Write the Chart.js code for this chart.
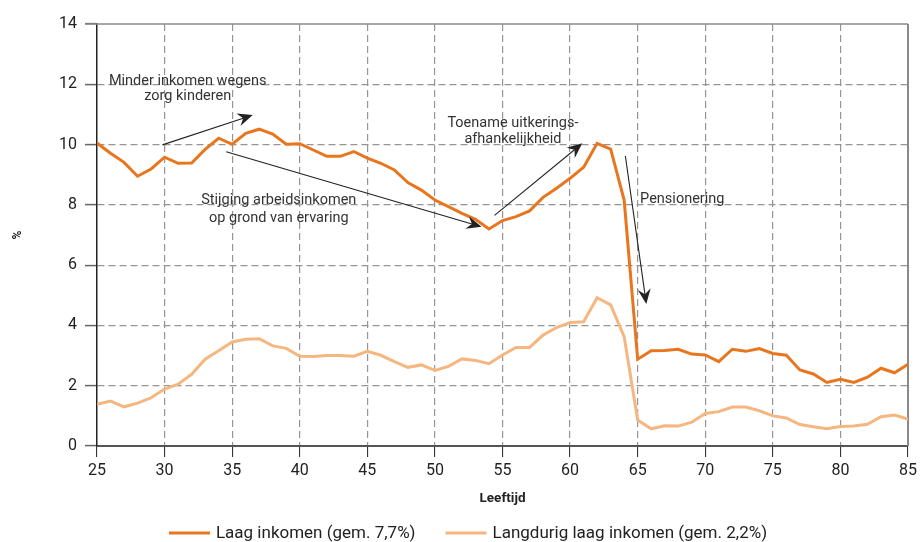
<!DOCTYPE html>
<html><head><meta charset="utf-8">
<script src="https://cdn.jsdelivr.net/npm/chart.js@4/dist/chart.umd.min.js"></script>
<style>html,body{margin:0;padding:0;background:#fff}#wrap{width:921px;height:542px}</style>
</head><body><div id="wrap"><canvas id="c" width="921" height="542"></canvas></div>
<script>
const ages = [25,26,27,28,29,30,31,32,33,34,35,36,37,38,39,40,41,42,43,44,45,46,47,48,49,50,51,52,53,54,55,56,57,58,59,60,61,62,63,64,65,66,67,68,69,70,71,72,73,74,75,76,77,78,79,80,81,82,83,84,85];
const laagInkomen = [10.05,9.71,9.41,8.95,9.19,9.58,9.38,9.39,9.84,10.21,10.01,10.37,10.51,10.35,10.01,10.03,9.82,9.61,9.61,9.77,9.55,9.38,9.16,8.74,8.49,8.16,7.94,7.72,7.52,7.20,7.48,7.61,7.80,8.25,8.55,8.88,9.25,10.04,9.85,8.16,2.88,3.16,3.17,3.21,3.05,3.02,2.80,3.21,3.14,3.23,3.07,3.01,2.52,2.39,2.11,2.21,2.11,2.28,2.58,2.43,2.71];
const langdurigLaagInkomen = [1.38,1.49,1.30,1.42,1.60,1.89,2.05,2.38,2.88,3.16,3.45,3.54,3.56,3.32,3.24,2.98,2.97,3.00,3.00,2.98,3.14,3.01,2.80,2.61,2.69,2.51,2.64,2.89,2.84,2.73,3.02,3.27,3.27,3.68,3.93,4.10,4.12,4.92,4.68,3.63,0.86,0.57,0.67,0.66,0.79,1.08,1.14,1.29,1.29,1.17,1.00,0.93,0.71,0.64,0.57,0.65,0.66,0.72,0.97,1.03,0.89];
const seriesLabels = ['Laag inkomen (gem. 7,7%)', 'Langdurig laag inkomen (gem. 2,2%)'];
const xTickValues = [25,30,35,40,45,50,55,60,65,70,75,80,85];
const yTickValues = [0,2,4,6,8,10,12,14];
const xTitle = 'Leeftijd';
const yTitle = '%';
const noteTexts = [
  ['Minder inkomen wegens','zorg kinderen'],
  ['Stijging arbeidsinkomen','op grond van ervaring'],
  ['Toename uitkerings-','afhankelijkheid'],
  ['Pensionering']
];

// placement of annotations (data coordinates)
const notePlacement = [
  {x:31.71, y:[12.09, 11.61]},
  {x:38.45, y:[8.16, 7.56]},
  {x:55.77, y:[10.71, 10.18]},
  {x:68.30, y:[8.19]}
];
const arrowPlacement = [
  {from:[29.84,9.99], to:[36.52,10.98]},
  {from:[34.56,9.76], to:[53.45,7.27]},
  {from:[54.41,7.65], to:[60.90,10.04]},
  {from:[64.09,9.62], to:[65.64,4.71]}
];

const FONT = 'Roboto, "Liberation Sans", sans-serif';
const colors = ['#E8761E', '#F5B680'];

const points = vals => ages.map((a,i)=>({x:a, y:vals[i]}));

const framePlugin = {
  id:'frame',
  beforeDatasetsDraw(chart){
    const {ctx, chartArea:ca} = chart;
    ctx.save();
    ctx.strokeStyle = '#8a8a8a';
    ctx.lineWidth = 1.5;
    ctx.beginPath(); ctx.moveTo(ca.left-12, ca.top); ctx.lineTo(ca.right, ca.top); ctx.stroke();
    ctx.lineWidth = 2;
    ctx.beginPath(); ctx.moveTo(ca.right, ca.top); ctx.lineTo(ca.right, ca.bottom); ctx.stroke();
    ctx.restore();
  }
};

function arrow(ctx, x1, y1, x2, y2){
  const ang = Math.atan2(y2-y1, x2-x1);
  const L = 15, W = 6.5, N = 10;
  ctx.beginPath(); ctx.moveTo(x1,y1);
  ctx.lineTo(x2 - Math.cos(ang)*N, y2 - Math.sin(ang)*N); ctx.stroke();
  const bx = x2 - Math.cos(ang)*L, by = y2 - Math.sin(ang)*L;
  const px = -Math.sin(ang), py = Math.cos(ang);
  ctx.beginPath();
  ctx.moveTo(x2,y2);
  ctx.lineTo(bx + px*W, by + py*W);
  ctx.lineTo(x2 - Math.cos(ang)*N, y2 - Math.sin(ang)*N);
  ctx.lineTo(bx - px*W, by - py*W);
  ctx.closePath(); ctx.fill();
}

const notesPlugin = {
  id:'notes',
  afterDatasetsDraw(chart){
    const {ctx, scales:{x, y}} = chart;
    ctx.save();
    ctx.fillStyle = '#333';
    ctx.font = '14.5px ' + FONT;
    ctx.textAlign = 'center';
    ctx.textBaseline = 'middle';
    noteTexts.forEach((lines, i) => {
      const p = notePlacement[i];
      lines.forEach((t, j) => ctx.fillText(t, x.getPixelForValue(p.x), y.getPixelForValue(p.y[j])));
    });
    ctx.strokeStyle = '#222'; ctx.fillStyle = '#222'; ctx.lineWidth = 1.1;
    arrowPlacement.forEach(a => arrow(ctx,
      x.getPixelForValue(a.from[0]), y.getPixelForValue(a.from[1]),
      x.getPixelForValue(a.to[0]), y.getPixelForValue(a.to[1])));
    ctx.restore();
  }
};

const legendPlugin = {
  id:'customLegend',
  afterDraw(chart){
    const ctx = chart.ctx;
    ctx.save();
    ctx.font = '17px ' + FONT;
    const ds = chart.data.datasets;
    const sample = 41, gap = 6, between = 30;
    const widths = ds.map(d => ctx.measureText(d.label).width);
    const total = widths.reduce((s,w)=>s+sample+gap+w,0) + between*(ds.length-1);
    let cx = 468 - total/2;
    const cy = 533;
    ds.forEach((d,i) => {
      ctx.strokeStyle = d.borderColor; ctx.lineWidth = 3;
      ctx.beginPath(); ctx.moveTo(cx, cy); ctx.lineTo(cx+sample, cy); ctx.stroke();
      ctx.fillStyle = '#222'; ctx.textAlign = 'left'; ctx.textBaseline = 'middle';
      ctx.fillText(d.label, cx+sample+gap, cy+1);
      cx += sample + gap + widths[i] + between;
    });
    ctx.restore();
  }
};

new Chart(document.getElementById('c'), {
  type:'line',
  data:{
    datasets:[
      {label:seriesLabels[0], data:points(laagInkomen), borderColor:colors[0], borderWidth:3, pointRadius:0, tension:0, fill:false},
      {label:seriesLabels[1], data:points(langdurigLaagInkomen), borderColor:colors[1], borderWidth:3, pointRadius:0, tension:0, fill:false}
    ]
  },
  options:{
    responsive:false,
    animation:false,
    events:[],
    layout:{padding:{left:0, right:10, top:24, bottom:0}},
    plugins:{legend:{display:false}, tooltip:{enabled:false}},
    scales:{
      x:{
        type:'linear', min:25, max:85,
        afterBuildTicks: s => { s.ticks = xTickValues.map(v=>({value:v})); },
        afterFit: s => { s.height = 96; },
        ticks:{font:{family:FONT, size:16}, color:'#222', padding:4, maxRotation:0},
        grid:{
          color: c => (c.tick && (c.tick.value===25 || c.tick.value===85)) ? 'rgba(0,0,0,0)' : '#959595',
          lineWidth:1.2, tickLength:11, tickColor:'#222', tickWidth:1
        },
        border:{color:'#555', width:2, dash:[7,4]},
        title:{display:true, text:xTitle, font:{family:FONT, size:13.5, weight:'bold'}, color:'#222', padding:{top:0, bottom:35}}
      },
      y:{
        min:0, max:14,
        afterBuildTicks: s => { s.ticks = yTickValues.map(v=>({value:v})); },
        afterFit: s => { s.width = 97; },
        ticks:{font:{family:FONT, size:16}, color:'#222', padding:8},
        grid:{
          color: c => (c.tick && (c.tick.value===0 || c.tick.value===14)) ? 'rgba(0,0,0,0)' : '#959595',
          lineWidth:1.2, tickLength:12, tickColor:'#666', tickWidth:1.5
        },
        border:{color:'#222', width:1.5, dash:[7,4]},
        title:{display:true, text:yTitle, font:{family:FONT, size:12, weight:'bold'}, color:'#222', padding:{top:11, bottom:0}}
      }
    }
  },
  plugins:[framePlugin, notesPlugin, legendPlugin]
});
</script>
</body></html>
